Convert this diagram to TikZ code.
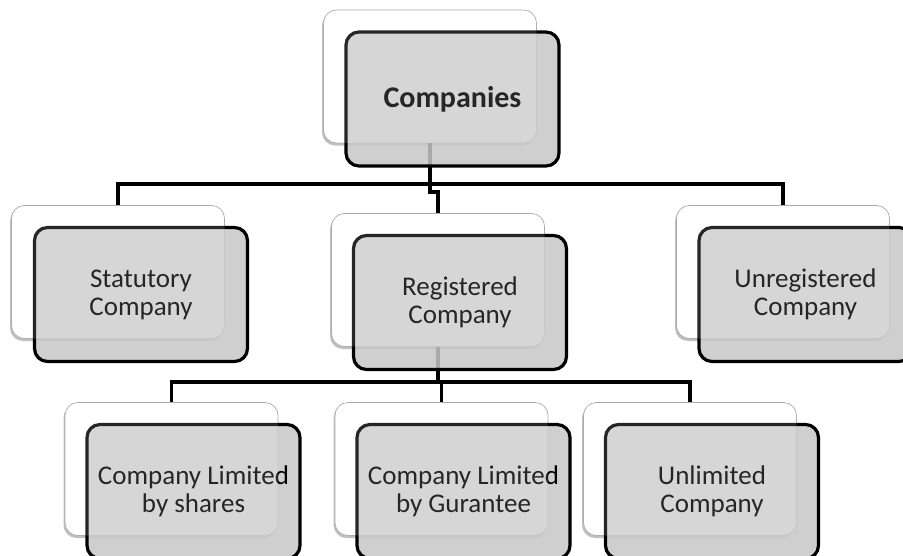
\documentclass[tikz,border=0pt]{standalone}
\usepackage{fontspec}
\setmainfont{Carlito}
\usetikzlibrary{shadows}
\begin{document}
\begin{tikzpicture}[x=1pt,y=-1pt,
    back/.style={draw=gray!70,line width=.7pt,fill=white,rounded corners=13pt,minimum width=213pt,minimum height=133pt,
        drop shadow={shadow xshift=-1.5pt,shadow yshift=-2.5pt,opacity=.5}},
    front/.style={draw,line width=3.2pt,fill=black!22,fill opacity=.85,text opacity=1,rounded corners=13pt,
        minimum width=213pt,minimum height=134pt,align=center,font=\fontsize{27}{28}\selectfont},
    veil/.style={fill=white,fill opacity=.15,rounded corners=13pt,minimum width=213pt,minimum height=133pt},
    link/.style={line width=3.8pt}]
\useasboundingbox (0,0) rectangle (903,555);
\foreach \n/\x/\y in {comp/430/76.5,stat/118/272,reg/438/280,unreg/783/272,shares/171.5/469,guar/441.5/469,unlim/690/469}
    \node[back] (\n b) at (\x,\y) {};
\coordinate (busA) at (0,184);
\coordinate (busB) at (0,382);
\draw[link] (compb.south) -- (compb.south |- busA) -- ++(0,8) -| (regb.north);
\draw[link] (statb.north) |- (busA -| unregb.north) -- (unregb.north);
\draw[link] (regb.south) -- (regb.south |- busB);
\draw[link] (sharesb.north) |- (busB -| unlimb.north) -- (unlimb.north);
\draw[link] (guarb.north) -- (guarb.north |- busB);
\foreach \n/\x/\y/\t in {comp/452.5/99/{\bfseries\fontsize{30}{32}\selectfont Companies},
    stat/141/294.5/{Statutory\\Company},reg/460/302.5/{Registered\\Company},unreg/805.5/294.5/{Unregistered\\Company},
    shares/193.5/491.5/{Company Limited\\by shares},guar/463.5/491.5/{Company Limited\\by Gurantee},unlim/712/491.5/{Unlimited\\Company}}
    \node[front] (\n) at (\x,\y) {\t};
\foreach \n in {comp,stat,reg,unreg,shares,guar,unlim}
    \node[veil] (\n v) at (\n b) {};
\end{tikzpicture}
\end{document}
